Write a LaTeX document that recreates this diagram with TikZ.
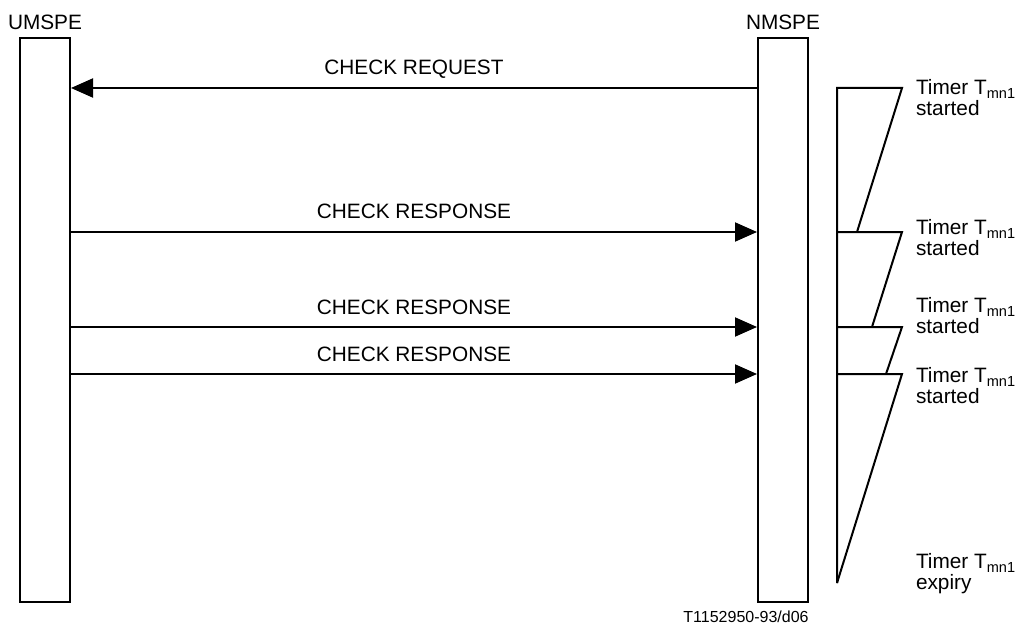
\documentclass[tikz,border=0pt]{standalone}
\usepackage{fontspec}
\setmainfont{Liberation Sans}
\usetikzlibrary{calc, arrows.meta}

\begin{document}
\begin{tikzpicture}[x=0.5pt,y=-0.5pt,line width=1pt,font=\fontsize{10.4}{10.5}\selectfont]
\tikzstyle{entity}=[draw,minimum width=25pt,minimum height=282pt,inner sep=0pt]
\tikzstyle{msg}=[-{Triangle[length=11pt,width=9.5pt]}]
\tikzstyle{msglabel}=[anchor=base,yshift=6.5pt]
\tikzstyle{timerlabel}=[align=left,anchor=west,inner sep=0pt]
\useasboundingbox (0,0) rectangle (1018,626);
\node[entity] (U) at (45,320) {};
\node[entity] (N) at (783,320) {};
\node (U_name) at (45,22) {UMSPE};
\node (N_name) at (783,22) {NMSPE};
\coordinate (m_1) at (0,88);
\coordinate (m_2) at (0,232);
\coordinate (m_3) at (0,327);
\coordinate (m_4) at (0,374);
\coordinate (m_5) at (0,583);
\draw[msg] (N.west |- m_1) -- node[msglabel] {CHECK REQUEST} (U.east |- m_1);
\draw[msg] (U.east |- m_2) -- node[msglabel] {CHECK RESPONSE} (N.west |- m_2);
\draw[msg] (U.east |- m_3) -- node[msglabel] {CHECK RESPONSE} (N.west |- m_3);
\draw[msg] (U.east |- m_4) -- node[msglabel] {CHECK RESPONSE} (N.west |- m_4);
\coordinate (t_l) at (837,0);
\coordinate (t_r) at (902,0);
\draw (t_l |- m_5) -- (t_l |- m_1) -- (t_r |- m_1) -- (857,232);
\draw (t_l |- m_2) -- (t_r |- m_2) -- (872,327);
\draw (t_l |- m_3) -- (t_r |- m_3) -- (886,374);
\draw (t_l |- m_4) -- (t_r |- m_4) -- (t_l |- m_5);
\node[timerlabel] (T_1) at (915,98) {Timer T\textsubscript{mn1}\\started};
\node[timerlabel] (T_2) at (915,238) {Timer T\textsubscript{mn1}\\started};
\node[timerlabel] (T_3) at (915,316) {Timer T\textsubscript{mn1}\\started};
\node[timerlabel] (T_4) at (915,386) {Timer T\textsubscript{mn1}\\started};
\node[timerlabel] (T_5) at (915,574) {Timer T\textsubscript{mn1}\\expiry};
\node[font=\fontsize{8}{9.6}\selectfont] (fig) at (746,617) {T1152950-93/d06};
\end{tikzpicture}
\end{document}
